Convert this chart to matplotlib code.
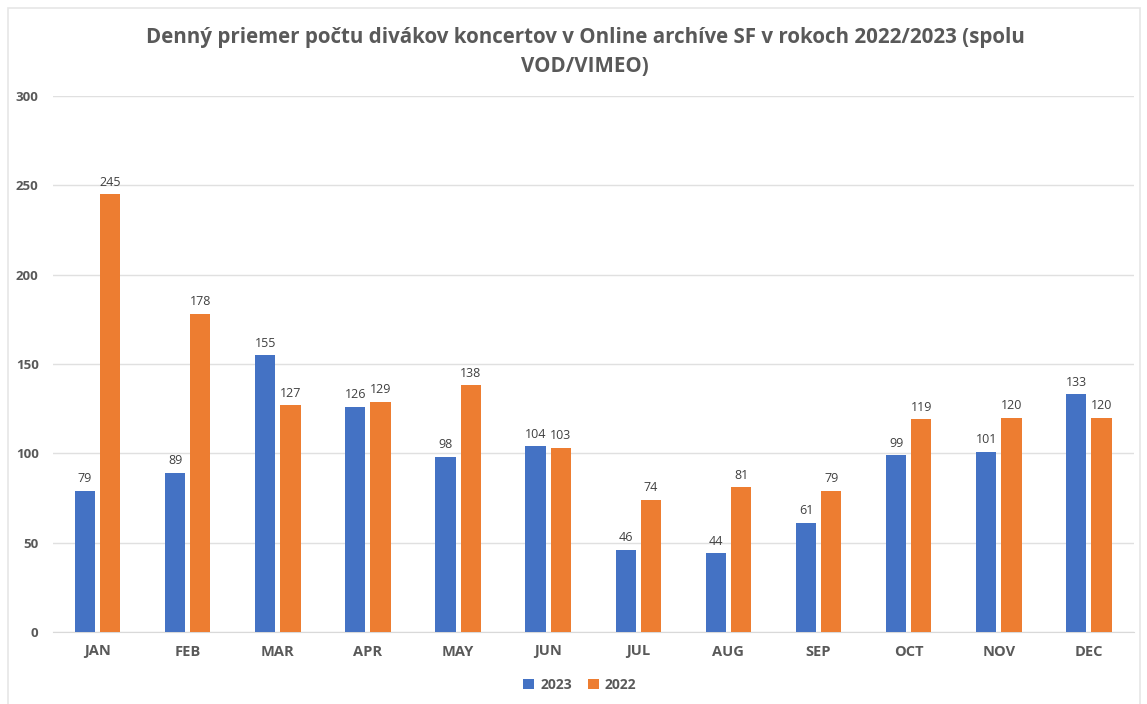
import matplotlib
matplotlib.use("Agg")
import matplotlib.pyplot as plt
import numpy as np
from matplotlib.patches import Rectangle

months = ["JAN", "FEB", "MAR", "APR", "MAY", "JUN", "JUL", "AUG", "SEP", "OCT", "NOV", "DEC"]
v2023 = [79, 89, 155, 126, 98, 104, 46, 44, 61, 99, 101, 133]
v2022 = [245, 178, 127, 129, 138, 103, 74, 81, 79, 119, 120, 120]
yticks = [0, 50, 100, 150, 200, 250, 300]

plt.rcParams['font.family'] = ['Open Sans', 'DejaVu Sans']

W, H = 1147, 704
fig = plt.figure(figsize=(W/100, H/100), dpi=100)
fig.patches.append(Rectangle((8/W, -0.1), (1140-8)/W, (H-8)/H + 0.1, transform=fig.transFigure,
                             fill=False, edgecolor='#e6e6e6', linewidth=1.2))

ax = fig.add_axes([52.5/W, 1 - 632/H, (1134-52.5)/W, (632-96)/H])
x = np.arange(len(months))
bw = 0.225
off = 0.14
c23 = '#4472C4'
c22 = '#ED7D31'
b1 = ax.bar(x - off, v2023, bw, color=c23, label='2023', zorder=3)
b2 = ax.bar(x + off, v2022, bw, color=c22, label='2022', zorder=3)
for bars, vals in ((b1, v2023), (b2, v2022)):
    for r, v in zip(bars, vals):
        ax.annotate(str(v), (r.get_x() + r.get_width()/2, v), xytext=(0, 4),
                    textcoords='offset points', ha='center', va='bottom',
                    fontsize=9, color='#404040')

ax.set_xlim(-0.5, len(months) - 0.5)
ax.set_ylim(0, 300)
ax.set_yticks(yticks)
ax.set_yticklabels([str(t) for t in yticks], fontsize=9.5, fontweight='bold', color='#595959')
ax.set_xticks(x)
ax.set_xticklabels(months, fontsize=10.5, fontweight='bold', color='#595959')
ax.tick_params(axis='both', length=0)
ax.tick_params(axis='y', pad=10)
ax.tick_params(axis='x', pad=9)
ax.grid(axis='y', color='#e0e0e0', linewidth=1, zorder=0)
for s in ['top', 'right', 'left']:
    ax.spines[s].set_visible(False)
ax.spines['bottom'].set_color('#d9d9d9')

fig.text(585/W, 1 - 37/H, "Denný priemer počtu divákov koncertov v Online archíve SF v rokoch 2022/2023 (spolu",
         ha='center', va='center', fontsize=14.8, fontweight='bold', color='#595959')
fig.text(585/W, 1 - 66/H, "VOD/VIMEO)", ha='center', va='center', fontsize=14.8,
         fontweight='bold', color='#595959')

leg = fig.legend(loc='center', bbox_to_anchor=(580/W, 1 - 685/H), ncol=2, frameon=False,
                 handlelength=0.8, handleheight=0.8, handletextpad=0.4, columnspacing=1.2,
                 prop={'size': 10, 'weight': 'bold'})
for t in leg.get_texts():
    t.set_color('#595959')

fig.savefig('out.png', dpi=100)
